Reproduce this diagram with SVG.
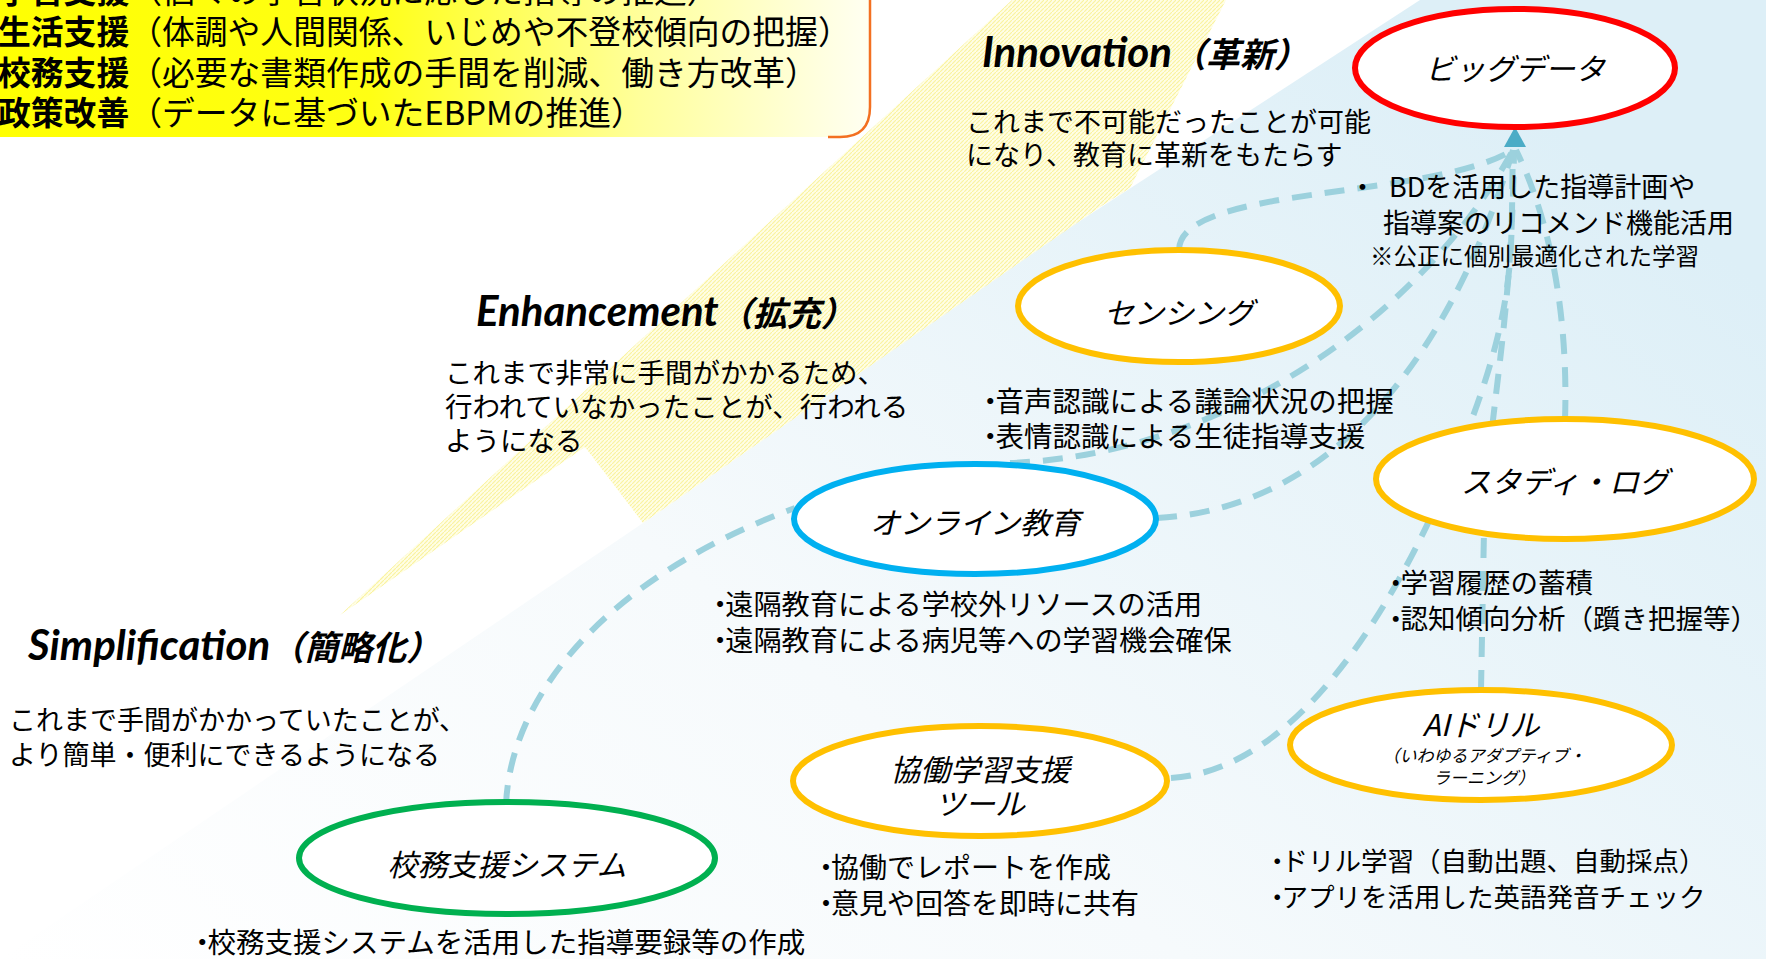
<svg xmlns="http://www.w3.org/2000/svg" width="1766" height="959" viewBox="0 0 1766 959">
  <defs>
    <linearGradient id="boxGrad" x1="0" y1="0" x2="1" y2="0">
      <stop offset="0" stop-color="#FFFF00"/>
      <stop offset="0.45" stop-color="#FFFF14"/>
      <stop offset="0.75" stop-color="#FFFF9C"/>
      <stop offset="1" stop-color="#FFFFF2"/>
    </linearGradient>
    <linearGradient id="blueGrad" x1="0" y1="1" x2="1" y2="0.3">
      <stop offset="0" stop-color="#FFFFFF"/>
      <stop offset="0.45" stop-color="#F6FAFC"/>
      <stop offset="1" stop-color="#DDEFF7"/>
    </linearGradient>
    <pattern id="hatch" width="4" height="4" patternUnits="userSpaceOnUse">
      <rect width="4" height="4" fill="#FFFEE6"/>
      <path d="M0 4 L4 0" stroke="#FAF3A0" stroke-width="1.2"/>
    </pattern>
    <style>
      .conn { fill: none; stroke: #9CD1DD; stroke-width: 6; stroke-dasharray: 20 13; }
      .hub { fill: #4BACC6; }
      .node { fill: #FFFFFF; stroke-width: 6; }
      .red { stroke: #FF0000; }
      .orange { stroke: #FFC000; }
      .blue { stroke: #00B0F0; }
      .green { stroke: #00B050; }
      .lbl { font-family: "Noto Sans CJK JP", "Noto Sans", sans-serif; font-style: italic; font-size: 30px; fill: #000; text-anchor: middle; }
      .body { font-family: "Noto Sans CJK JP", sans-serif; font-size: 27px; fill: #000; }
      .dot { letter-spacing: -9px; }
      .box { font-family: "Noto Sans CJK JP", sans-serif; font-size: 32.8px; fill: #000; }
      .boxb { font-weight: bold; }
      .head { font-family: Lato, "Noto Sans", sans-serif; font-weight: bold; font-style: italic; font-size: 42px; fill: #000; }
      .headj { font-family: "Noto Sans CJK JP", sans-serif; font-weight: bold; font-style: italic; font-size: 34px; }
    </style>
  </defs>

  <!-- background -->
  <rect width="1766" height="959" fill="#FFFFFF"/>
  <polygon points="1766,0 1420,0 1066,230 643,523 0,959 1766,959" fill="url(#blueGrad)"/>
  <polygon points="340,615 585,447 643,523 1100,207 1130,188 1226,0 1012,0" fill="url(#hatch)"/>

  <!-- top-left box -->
  <g id="usage-box">
    <rect x="-40" y="-40" width="910" height="177" rx="30" fill="url(#boxGrad)"/>
    <path d="M870 -5 L870 107 Q870 137 840 137 L828 137" fill="none" stroke="#F37021" stroke-width="2.5"/>
    <text class="box" x="-2" y="3"><tspan class="boxb">学習支援</tspan>（個々の学習状況に応じた指導の推進）</text>
    <text class="box" x="-2" y="44"><tspan class="boxb">生活支援</tspan>（体調や人間関係、いじめや不登校傾向の把握）</text>
    <text class="box" x="-2" y="85"><tspan class="boxb">校務支援</tspan>（必要な書類作成の手間を削減、働き方改革）</text>
    <text class="box" x="-2" y="125"><tspan class="boxb">政策改善</tspan>（データに基づいたEBPMの推進）</text>
  </g>

  <!-- stage headings -->
  <g id="stage-innovation">
    <text class="head" x="982" y="67">Innovation<tspan class="headj">（革新）</tspan></text>
    <text class="body" x="966" y="132">これまで不可能だったことが可能</text>
    <text class="body" x="966" y="165">になり、教育に革新をもたらす</text>
  </g>
  <g id="stage-enhancement">
    <text class="head" x="476" y="326">Enhancement<tspan class="headj">（拡充）</tspan></text>
    <text class="body" x="445" y="383" style="font-size:27.5px">これまで非常に手間がかかるため、</text>
    <text class="body" x="445" y="417" style="font-size:27.5px">行われていなかったことが、行われる</text>
    <text class="body" x="445" y="451" style="font-size:27.5px">ようになる</text>
  </g>
  <g id="stage-simplification">
    <text class="head" x="28" y="660">Simplification<tspan class="headj">（簡略化）</tspan></text>
    <text class="body" x="9" y="730">これまで手間がかかっていたことが、</text>
    <text class="body" x="9" y="765">より簡単・便利にできるようになる</text>
  </g>

  <!-- connectors -->
  <g id="connectors">
    <path class="conn" d="M506 805 C510 700 600 580 795 508"/>
    <path class="conn" d="M1157 518 C1310 510 1440 390 1513 150"/>
    <path class="conn" d="M1010 463 C1220 455 1420 320 1513 150"/>
    <path class="conn" d="M1179 250 C1180 185 1430 200 1513 150"/>
    <path class="conn" d="M1565 420 C1568 330 1555 230 1516 150"/>
    <path class="conn" d="M1481 690 L1484 530 C1487 420 1512 330 1514 150"/>
    <path class="conn" d="M1171 778 C1300 770 1400 600 1460 450 C1520 300 1510 250 1513 150"/>
    <polygon class="hub" points="1515,127 1504,147 1526,147"/>
  </g>

  <!-- nodes -->
  <g id="node-bigdata">
    <ellipse class="node red" cx="1515" cy="68" rx="160" ry="59"/>
    <text class="lbl" x="1515" y="80">ビッグデータ</text>
  </g>
  <g id="node-bigdata-notes">
    <text class="body" x="1349" y="197">・</text>
    <text class="body" x="1389" y="197">BDを活用した指導計画や</text>
    <text class="body" x="1383" y="233">指導案のリコメンド機能活用</text>
    <text class="body" x="1370" y="265" style="font-size:23.5px">※公正に個別最適化された学習</text>
  </g>
  <g id="node-sensing">
    <ellipse class="node orange" cx="1179" cy="306" rx="161" ry="56"/>
    <text class="lbl" x="1179" y="324">センシング</text>
    <text class="body" x="976" y="412" style="font-size:28.5px"><tspan class="dot">・</tspan>音声認識による議論状況の把握</text>
    <text class="body" x="976" y="447" style="font-size:28.5px"><tspan class="dot">・</tspan>表情認識による生徒指導支援</text>
  </g>
  <g id="node-online">
    <ellipse class="node blue" cx="975" cy="519" rx="181" ry="55"/>
    <text class="lbl" x="975" y="534">オンライン教育</text>
    <text class="body" x="706" y="615" style="font-size:28.2px"><tspan class="dot">・</tspan>遠隔教育による学校外リソースの活用</text>
    <text class="body" x="706" y="651" style="font-size:28.2px"><tspan class="dot">・</tspan>遠隔教育による病児等への学習機会確保</text>
  </g>
  <g id="node-studylog">
    <ellipse class="node orange" cx="1565" cy="479" rx="189" ry="60"/>
    <text class="lbl" x="1565" y="493">スタディ・ログ</text>
    <text class="body" x="1382" y="593" style="font-size:27.5px"><tspan class="dot">・</tspan>学習履歴の蓄積</text>
    <text class="body" x="1382" y="629" style="font-size:27.5px"><tspan class="dot">・</tspan>認知傾向分析（躓き把握等）</text>
  </g>
  <g id="node-collab">
    <ellipse class="node orange" cx="980" cy="781" rx="187" ry="55"/>
    <text class="lbl" x="980" y="781">協働学習支援</text>
    <text class="lbl" x="980" y="815">ツール</text>
    <text class="body" x="812" y="878" style="font-size:28px"><tspan class="dot">・</tspan>協働でレポートを作成</text>
    <text class="body" x="812" y="914" style="font-size:28px"><tspan class="dot">・</tspan>意見や回答を即時に共有</text>
  </g>
  <g id="node-aidrill">
    <ellipse class="node orange" cx="1481" cy="745" rx="191" ry="55"/>
    <text class="lbl" x="1481" y="736">AIドリル</text>
    <text class="lbl" x="1484" y="762" style="font-size:17px">（いわゆるアダプティブ・</text>
    <text class="lbl" x="1484" y="784" style="font-size:17px">ラーニング）</text>
    <text class="body" x="1264" y="871" style="font-size:26.5px"><tspan class="dot">・</tspan>ドリル学習（自動出題、自動採点）</text>
    <text class="body" x="1264" y="907" style="font-size:26.5px"><tspan class="dot">・</tspan>アプリを活用した英語発音チェック</text>
  </g>
  <g id="node-komu">
    <ellipse class="node green" cx="507" cy="858" rx="208" ry="56"/>
    <text class="lbl" x="507" y="876">校務支援システム</text>
    <text class="body" x="188" y="953" style="font-size:28.5px"><tspan class="dot">・</tspan>校務支援システムを活用した指導要録等の作成</text>
  </g>
</svg>
